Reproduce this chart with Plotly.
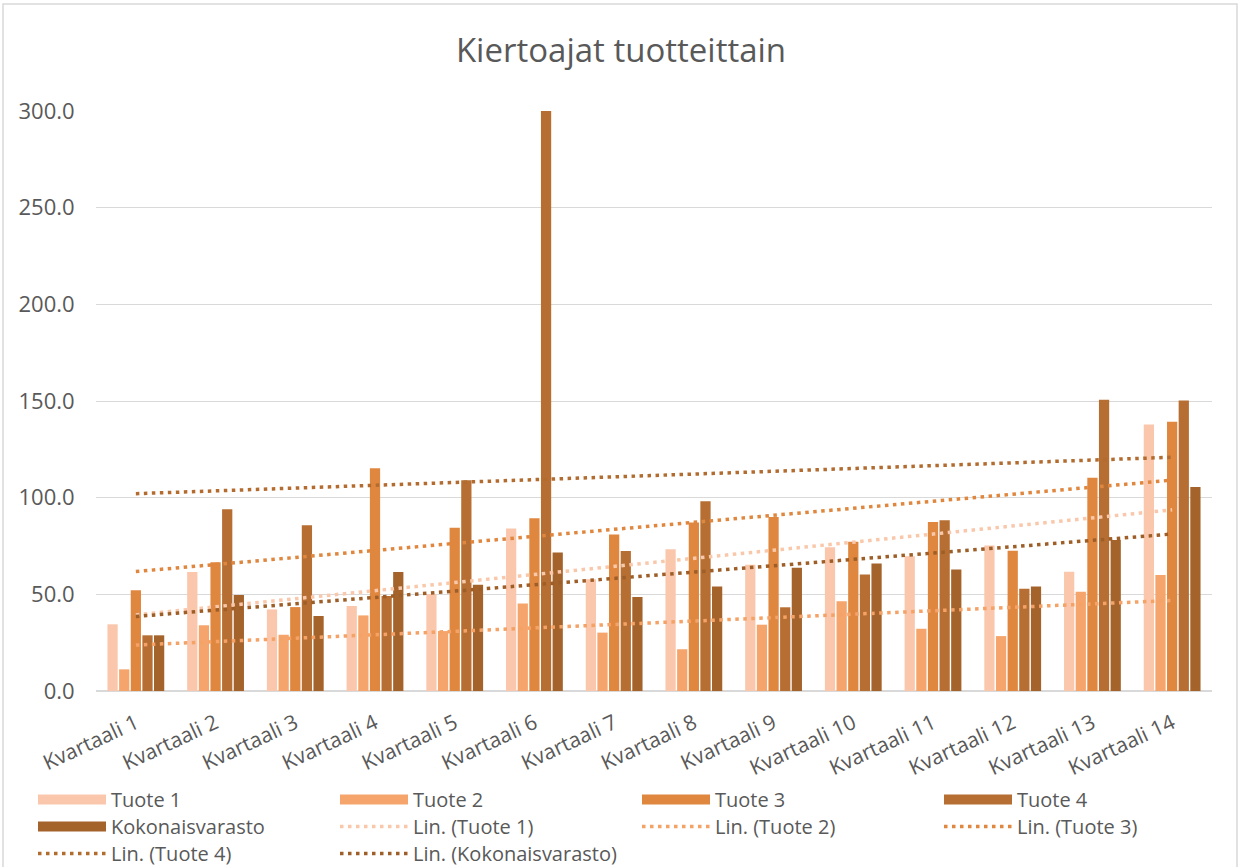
import numpy as np
import plotly.graph_objects as go

# Quarter labels
quarters = [f"Kvartaali {i}" for i in range(1, 15)]

# Turnover times per product and total inventory
tuote_1 = [34.5, 61.6, 42.2, 44.0, 50.0, 84.1, 57.8, 73.3, 65.3, 74.3, 69.7, 75.3, 61.7, 137.8]
tuote_2 = [11.2, 34.0, 29.1, 39.1, 31.0, 45.2, 30.2, 21.6, 34.3, 46.4, 32.2, 28.4, 51.4, 60.0]
tuote_3 = [52.1, 66.6, 43.4, 115.2, 84.5, 89.3, 81.0, 87.1, 90.0, 77.2, 87.4, 72.6, 110.3, 139.3]
tuote_4 = [28.8, 94.0, 85.7, 49.1, 109.0, 478.0, 72.4, 98.1, 43.3, 60.3, 88.3, 52.9, 150.7, 150.2]
kokonaisvarasto = [28.8, 49.7, 38.8, 61.6, 55.0, 71.6, 48.6, 54.0, 63.8, 65.9, 62.9, 54.0, 78.1, 105.5]

series_names = ["Tuote 1", "Tuote 2", "Tuote 3", "Tuote 4", "Kokonaisvarasto"]
series_values = [tuote_1, tuote_2, tuote_3, tuote_4, kokonaisvarasto]
bar_colors = ["#FAC7AC", "#F5A56C", "#E0873F", "#B66E32", "#A5632C"]
trend_colors = ["#F9C8AB", "#F4A266", "#E0873F", "#B36C30", "#9E5E28"]

FONT = "Open Sans"
TXT = "#595959"
GRID = "#D9D9D9"

W, H = 1242, 867
ML, MR, MT, MB = 96, 30, 111, 176
pw, ph = W - ML - MR, H - MT - MB

# Legend laid out in rows of four entries, one Plotly legend per row
PER_ROW = 4
legend_ids = ["legend", "legend2", "legend3"]
entry_counter = [0]


def next_legend():
    row = entry_counter[0] // PER_ROW
    entry_counter[0] += 1
    return legend_ids[row]


fig = go.Figure()

# Bars (legend entries drawn as wide swatches via line-style legend items below)
for name, vals, col in zip(series_names, series_values, bar_colors):
    fig.add_trace(go.Bar(x=quarters, y=vals, name=name, legendgroup=name, showlegend=False,
                         marker=dict(color=col, line=dict(width=0))))

for name, col in zip(series_names, bar_colors):
    fig.add_trace(go.Scatter(x=[None], y=[None], mode="lines", name=name, legendgroup=name,
                             legend=next_legend(), line=dict(color=col, width=14),
                             hoverinfo="skip"))

# Linear trend lines (least squares over quarter index)
xi = np.arange(1, len(quarters) + 1)
for name, vals, col in zip(series_names, series_values, trend_colors):
    slope, intercept = np.polyfit(xi, np.array(vals, dtype=float), 1)
    fig.add_trace(go.Scatter(
        x=quarters, y=intercept + slope * xi, mode="lines", name=f"Lin. ({name})",
        legend=next_legend(),
        line=dict(color=col, width=3.5, dash="3.5px,4.5px"), hoverinfo="skip",
    ))


def legend_row(top_px):
    return dict(orientation="h", x=-(ML - 33) / pw, xanchor="left",
                y=-(top_px - (MT + ph)) / ph, yanchor="top",
                font=dict(size=20, color=TXT, family=FONT),
                entrywidth=219, entrywidthmode="pixels", traceorder="normal",
                itemwidth=68, tracegroupgap=0, bgcolor="rgba(0,0,0,0)")


fig.update_layout(
    width=W, height=H,
    margin=dict(l=ML, r=MR, t=MT, b=MB, autoexpand=False),
    paper_bgcolor="white", plot_bgcolor="white",
    font=dict(family=FONT, color=TXT),
    title=dict(text="Kiertoajat tuotteittain", x=0.5, xanchor="center",
               y=1 - 50 / H, yanchor="middle", font=dict(size=33, color=TXT, family=FONT)),
    barmode="group", bargap=0.27, bargroupgap=0.12,
    showlegend=True,
    legend=legend_row(780),
    legend2=legend_row(807),
    legend3=legend_row(834),
    xaxis=dict(showgrid=False, tickangle=-25, tickfont=dict(size=21, color=TXT, family=FONT),
               showline=True, linecolor=GRID, linewidth=1, ticks="", ticklabelshift=0,
               ticklabelstandoff=11),
    yaxis=dict(range=[0, 300], dtick=50, tickformat=".1f", showgrid=True, gridcolor=GRID,
               gridwidth=1, zeroline=True, zerolinecolor=GRID, showline=False,
               ticks="outside", ticklen=16, tickcolor="rgba(0,0,0,0)",
               tickfont=dict(size=22, color=TXT, family=FONT)),
)

# Chart area border
fig.add_shape(type="rect", xref="paper", yref="paper",
              x0=(3 - ML) / pw, x1=(W - 5 - ML) / pw,
              y0=-(H + 2 - MT - ph) / ph, y1=1 + (MT - 4) / ph,
              line=dict(color=GRID, width=1.5), fillcolor="rgba(0,0,0,0)", layer="below")

fig.write_html("out.html")
